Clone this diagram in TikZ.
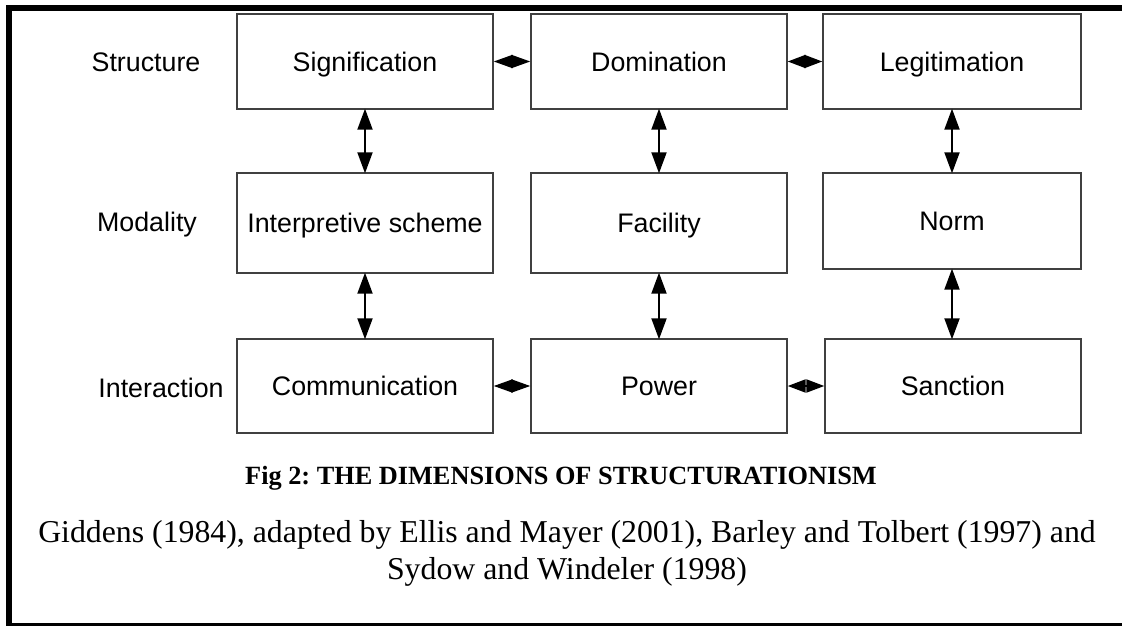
\documentclass[tikz,border=0pt]{standalone}
\usepackage{fontspec}
\setmainfont{Liberation Serif}
\newfontfamily\arialf{Liberation Sans}
\usetikzlibrary{arrows.meta}
\frenchspacing
\begin{document}
\begin{tikzpicture}[x=1pt,y=-1pt,
  box/.style={draw=black!75, line width=1.4pt, minimum width=256pt, inner sep=0pt,
    text height=19pt, text depth=0pt,
    font=\arialf\fontsize{26.8}{30}\selectfont, text=black},
  rowlabel/.style={font=\arialf\fontsize{26.8}{30}\selectfont, inner sep=0pt,
    text height=19pt, text depth=0pt},
  varrow/.style={line width=2pt, {Triangle[length=21pt,width=15pt]}-{Triangle[length=21pt,width=15pt]}, shorten <=-1pt, shorten >=-1pt},
  harrow/.style={line width=2pt, {Triangle[length=#1,width=13pt]}-{Triangle[length=#1,width=13pt]}},
  harrow/.default=19pt,
  captitle/.style={font=\bfseries\fontsize{26.3}{30}\selectfont, inner sep=0pt},
  captext/.style={font=\fontsize{31.8}{36}\selectfont, inner sep=0pt}
]
\useasboundingbox (0,0) rectangle (1122,626);
\fill[white] (0,0) rectangle (1122,626);
% frame
\draw[line width=6pt] (9,626) -- (9,8) -- (1122,8);
\draw[line width=2.5pt] (6,624.5) -- (1122,624.5);
% row labels
\node[rowlabel] (lstr) at (146,62) {Structure};
\node[rowlabel] (lmod) at (147,222) {Modality};
\node[rowlabel] (lint) at (161,388) {Interaction};
% boxes
\node[box, minimum height=95pt] (sig) at (365,61.5) {Signification};
\node[box, minimum height=95pt] (dom) at (659,61.5) {Domination};
\node[box, minimum height=95pt, minimum width=258pt] (leg) at (952,61.5) {Legitimation};
\node[box, minimum height=100pt] (int) at (365,223) {Interpretive scheme};
\node[box, minimum height=100pt] (fac) at (659,223) {Facility};
\node[box, minimum height=96pt, minimum width=258pt] (nor) at (952,221) {Norm};
\node[box, minimum height=94pt] (com) at (365,386) {Communication};
\node[box, minimum height=94pt] (pow) at (659,386) {Power};
\node[box, minimum height=94pt] (san) at (953,386) {Sanction};
% vertical arrows
\draw[varrow] (sig.south) -- (int.north);
\draw[varrow] (int.south) -- (com.north);
\draw[varrow] (dom.south) -- (fac.north);
\draw[varrow] (fac.south) -- (pow.north);
\draw[varrow] (leg.south) -- (nor.north);
\draw[varrow] (nor.south) -- (nor.south |- san.north);
% horizontal arrows
\draw[harrow] (sig.east) -- (dom.west);
\draw[harrow=18pt] (dom.east) -- (leg.west);
\draw[harrow] (com.east) -- (pow.west);
\draw[harrow=18pt] (pow.east) -- (san.west);
% caption
\node[captitle] (cap1) at (561,478) {Fig 2: THE DIMENSIONS OF STRUCTURATIONISM};
\node[captext] (cap2) at (567,535) {Giddens (1984), adapted by Ellis and Mayer (2001), Barley and Tolbert (1997) and};
\node[captext] (cap3) at (567,572) {Sydow and Windeler (1998)};
\end{tikzpicture}
\end{document}
